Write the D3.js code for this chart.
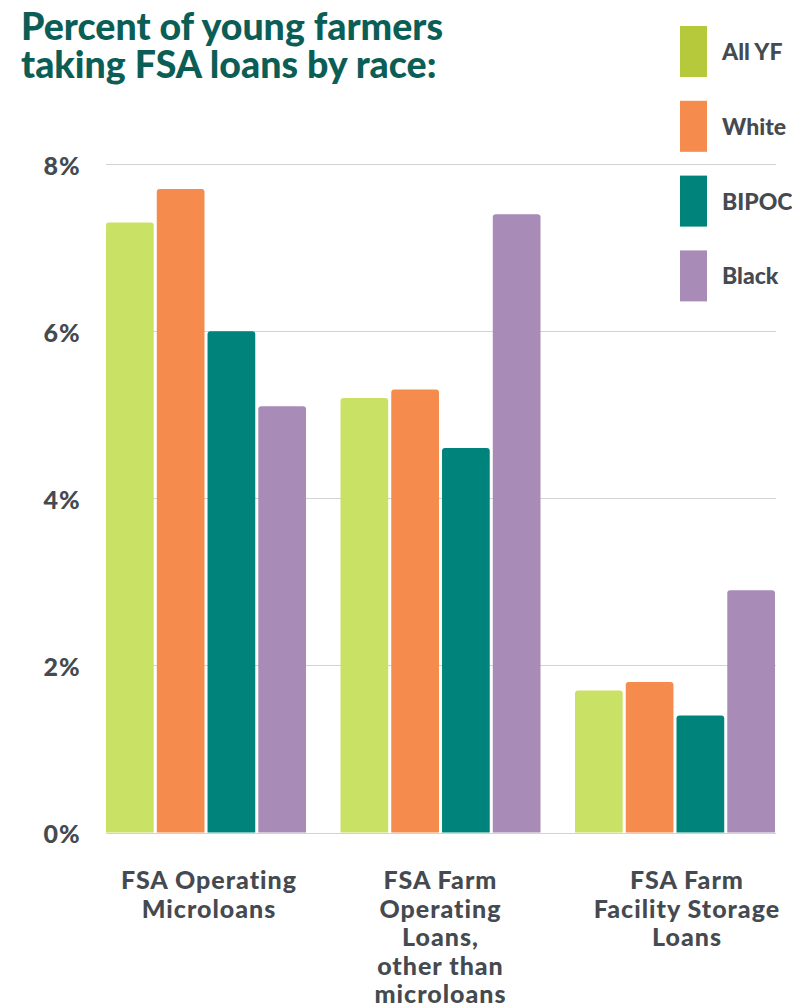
<!DOCTYPE html>
<html><head><meta charset="utf-8">
<script src="https://cdn.jsdelivr.net/npm/d3@7"></script>
<style>body{margin:0;background:#fff}svg{display:block}</style>
</head><body>
<script>
const categories = [
  ["FSA Operating", "Microloans"],
  ["FSA Farm", "Operating", "Loans,", "other than", "microloans"],
  ["FSA Farm", "Facility Storage", "Loans"]
];
const seriesNames = ["All YF", "White", "BIPOC", "Black"];
const allYF = [7.3, 5.2, 1.7];
const white = [7.7, 5.3, 1.8];
const bipoc = [6.0, 4.6, 1.4];
const black = [5.1, 7.4, 2.9];
const yTicks = [0, 2, 4, 6, 8];
const titleLines = ["Percent of young farmers", "taking FSA loans by race:"];

const barColors = ["#c9e266", "#f58b4c", "#00837a", "#a88bb6"];
const legendColors = ["#b6c93a", "#f58b4c", "#00837a", "#a88bb6"];
const series = [allYF, white, bipoc, black];

const W = 792, H = 1008;
const svg = d3.select("body").append("svg").attr("width", W).attr("height", H);

const y = d3.scaleLinear().domain([0, 8]).range([832.5, 164]);
const x0 = d3.scaleBand().domain(d3.range(categories.length)).range([106, 775]).paddingInner(0.147).paddingOuter(0);
const x1 = d3.scaleBand().domain(d3.range(seriesNames.length)).range([0, x0.bandwidth()]).paddingInner(0.06);

// gridlines
const grid = svg.append("g");
grid.selectAll("line").data(yTicks).join("line")
  .attr("x1", 106).attr("x2", 776)
  .attr("y1", d => Math.round(y(d)) + 0.5).attr("y2", d => Math.round(y(d)) + 0.5)
  .attr("stroke", "#d3d3d3").attr("stroke-width", 1);

// y axis labels
const yAxis = d3.axisLeft(y).tickValues(yTicks).tickFormat(d => d + "%").tickSize(0).tickPadding(0);
const ya = svg.append("g").attr("transform", "translate(81,2)").call(yAxis);
ya.select(".domain").remove();
ya.selectAll("text").attr("font-family", "Lato").attr("font-weight", 900).attr("font-size", 25)
  .attr("letter-spacing", 1.2).attr("fill", "#454a50");

// bars
const r = 3;
function barPath(xx, w, yTop, yBot) {
  const rr = Math.min(r, (yBot - yTop));
  return `M${xx},${yBot}V${yTop + rr}Q${xx},${yTop} ${xx + rr},${yTop}H${xx + w - rr}Q${xx + w},${yTop} ${xx + w},${yTop + rr}V${yBot}Z`;
}
const groups = svg.append("g").selectAll("g").data(categories).join("g")
  .attr("transform", (d, i) => `translate(${x0(i)},0)`);
groups.selectAll("path").data((d, i) => series.map((s, k) => ({k, v: s[i]}))).join("path")
  .attr("d", d => barPath(x1(d.k), x1.bandwidth(), y(d.v), y(0)))
  .attr("fill", d => barColors[d.k]);

// category labels
const cx = [103, 100, 112];
groups.append("text")
  .attr("text-anchor", "middle")
  .attr("font-family", "Lato").attr("font-weight", 900).attr("font-size", 25)
  .attr("letter-spacing", 1)
  .attr("fill", "#454a50")
  .selectAll("tspan").data((d, gi) => d.map(t => ({t, gi}))).join("tspan")
  .attr("x", d => cx[d.gi])
  .attr("y", (d, i) => 889 + i * 28.6)
  .text(d => d.t);

// title
svg.append("text").attr("font-family", "Lato").attr("font-weight", 900).attr("font-size", 37.5)
  .attr("fill", "#0b5e55")
  .selectAll("tspan").data(titleLines).join("tspan")
  .attr("x", 21).attr("y", (d, i) => 40 + i * 37.5).text(d => d);

// legend
const leg = svg.append("g").selectAll("g").data(seriesNames).join("g")
  .attr("transform", (d, i) => `translate(680,${26 + i * 74.8})`);
leg.append("rect").attr("width", 27).attr("height", 51).attr("fill", (d, i) => legendColors[i]);
leg.append("text").attr("x", 42).attr("y", 26).attr("dy", "0.35em")
  .attr("font-family", "Lato").attr("font-weight", 900).attr("font-size", 23)
  .attr("fill", "#454a50").text(d => d);
</script>
</body></html>
